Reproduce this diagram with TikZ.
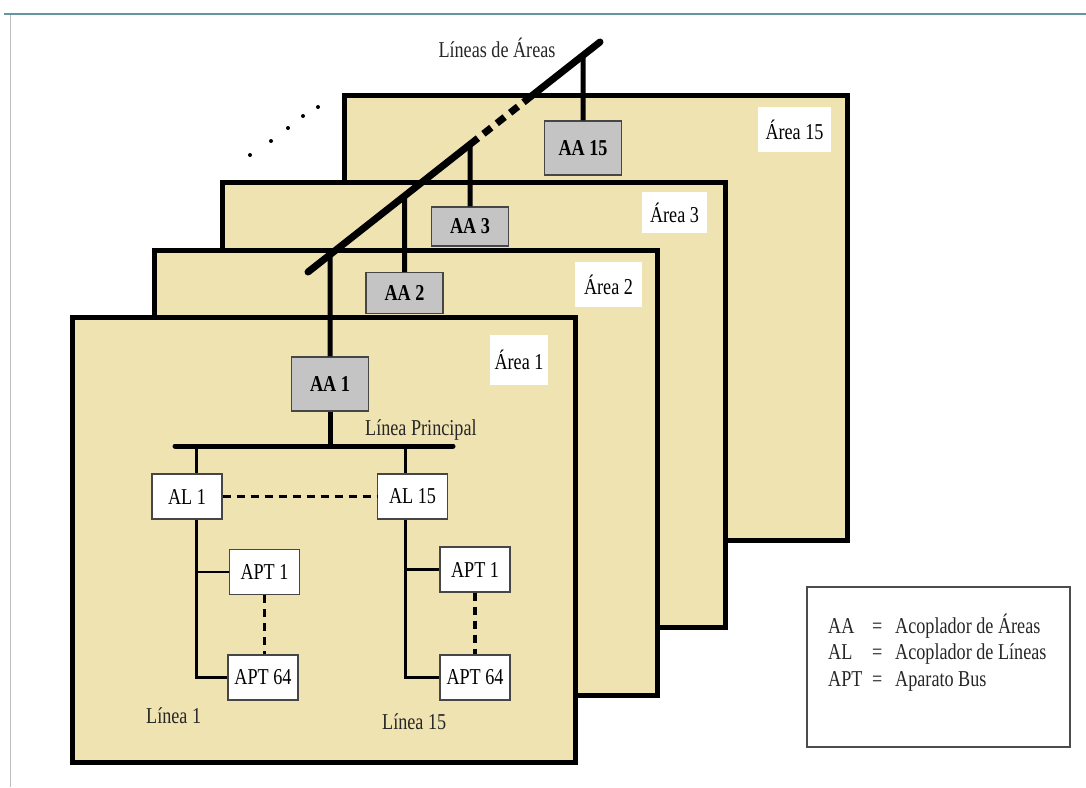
\documentclass[tikz,border=0pt]{standalone}
\usepackage{fontspec}
\setmainfont{Liberation Serif}[FakeStretch=0.8]
\usepackage{tikz}
\usetikzlibrary{positioning,calc}
\definecolor{cArea}{HTML}{EFE3B2}
\definecolor{cCoupler}{HTML}{C4C4C4}
\definecolor{cRule}{HTML}{6496A0}
\newcommand{\diagsize}{\fontsize{22.7pt}{26.5pt}\selectfont}

\begin{document}
\begin{tikzpicture}[
    x=1pt, y=-1pt,
    font=\diagsize,
    area/.style={draw=black, line width=4.5pt, fill=cArea, anchor=north west, minimum width=503pt, minimum height=445pt, inner sep=0pt},
    tag/.style={fill=white, inner sep=0pt},
    aa/.style={draw=gray!55!black, line width=1.2pt, fill=cCoupler, font=\diagsize\bfseries, inner sep=0pt, minimum width=77pt},
    dev/.style={draw=gray!55!black, line width=1.2pt, fill=white, inner sep=0pt, minimum width=70pt, minimum height=45pt},
    bus/.style={line width=7pt, line cap=round},
    riser/.style={line width=5pt},
    tap/.style={line width=3pt},
    branch/.style={line width=2.5pt},
    link/.style={line width=3.5pt, dash pattern=on 8pt off 6pt},
    lbl/.style={inner sep=0pt, anchor=base west, text=black!85}
]
\useasboundingbox (0,0) rectangle (1086,787);
\draw[cRule, line width=2.7pt] (4,14) -- (1086,14);
\draw[gray!50, line width=1pt] (10,15) -- (10,787);

\node[area] (area15) at (342,93) {};
\node[tag, minimum width=73pt, minimum height=45pt] (lbl15) at (794.5,129.5) {Área 15};
\node[aa, minimum height=54pt] (aa15) at (583,148) {AA 15};
\node[area] (area3) at (220,180) {};
\node[tag, minimum width=65pt, minimum height=41pt] (lbl3) at (674.5,212.5) {Área 3};
\node[aa, minimum height=39pt] (aa3) at (470,226.5) {AA 3};
\node[area] (area2) at (152,248) {};
\node[tag, minimum width=67pt, minimum height=45pt] (lbl2) at (608.5,284.5) {Área 2};
\node[aa, minimum height=41pt] (aa2) at (404.5,293) {AA 2};
\node[area] (area1) at (70,315) {};
\node[tag, minimum width=58pt, minimum height=50pt] (lbl1) at (519,360) {Área 1};
\node[aa, minimum height=54pt] (aa1) at (330,384) {AA 1};

\coordinate (busA) at (308,272);
\coordinate (busB) at (600,42);
\coordinate (gapA) at ($(busA)!0.555!(busB)$);
\coordinate (gapB) at ($(busA)!0.75!(busB)$);
\draw[bus] (busA) -- (gapA);
\draw[bus, line cap=butt, dash pattern=on 10pt off 7pt] (gapA) -- (gapB);
\draw[bus] (gapB) -- (busB);
\foreach \n in {1,2,3,15}
  \draw[riser] (aa\n.north) -- (intersection cs: first line={(busA)--(busB)}, second line={(aa\n.north)--(aa\n.south)});

\foreach \px/\py in {250/155, 271/141, 288/128, 303/116, 318/107}
  \fill (\px,\py) circle (2pt);
\node[lbl, anchor=base] (areaLines) at (497,57) {Líneas de Áreas};

\coordinate (mainL) at (175,446);
\coordinate (mainR) at (453,446);
\draw[riser, line cap=round] (mainL) -- (mainR);
\draw[riser] (aa1.south) -- (aa1.south |- mainL);
\node[lbl] (mainLbl) at (365,435) {Línea Principal};

\node[dev] (al1) at (187,496.5) {AL 1};
\node[dev] (al15) at (412.5,496.5) {AL 15};
\coordinate (tapL) at (196,446);
\coordinate (tapR) at (405,446);
\draw[tap] (tapL) -- (al1.north -| tapL);
\draw[tap] (tapR) -- (al15.north -| tapR);
\draw[link] (al1.east) -- (al15.west);

\node[dev] (apt1L) at (264.5,572) {APT 1};
\node[dev] (apt64L) at (263,677.5) {APT 64};
\node[dev] (apt1R) at (475,569.5) {APT 1};
\node[dev] (apt64R) at (475,677.5) {APT 64};
\draw[tap] (al1.south -| tapL) |- (apt64L.west);
\draw[tap] (al15.south -| tapR) |- (apt64R.west);
\draw[branch] (apt1L.west -| tapL) -- (apt1L.west);
\draw[branch] (apt1R.west -| tapR) -- (apt1R.west);
\draw[link] (apt1L.south) -- (apt1L.south |- apt64L.north);
\draw[link] (apt1R.south) -- (apt1R.south |- apt64R.north);
\node[lbl] (line1Lbl) at (146,723) {Línea 1};
\node[lbl] (line15Lbl) at (382,729) {Línea 15};

\node[draw=gray!60!black, line width=2pt, minimum width=263pt, minimum height=160pt, inner sep=0pt] (legend) at (938.5,667) {};
\foreach \ab/\txt [count=\i] in {AA/Acoplador de Áreas, AL/Acoplador de Líneas, APT/Aparato Bus} {
  \node[lbl] (key\i) at (828,{633+26.5*(\i-1)}) {\ab};
  \node[lbl] (eq\i) at (872,{633+26.5*(\i-1)}) {=};
  \node[lbl] (desc\i) at (895,{633+26.5*(\i-1)}) {\txt};
}
\end{tikzpicture}
\end{document}
